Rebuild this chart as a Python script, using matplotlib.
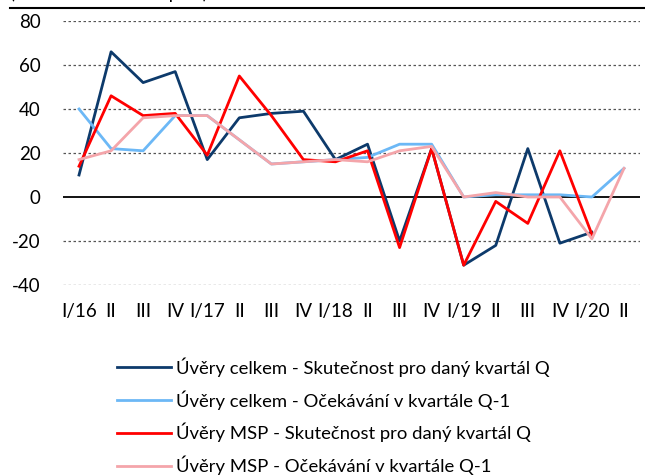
import matplotlib
matplotlib.use("Agg")
import matplotlib.pyplot as plt
from matplotlib.lines import Line2D

plt.rcParams['font.family'] = ['Lato', 'DejaVu Sans']
plt.rcParams['axes.unicode_minus'] = False

quarters = ["I/16", "II", "III", "IV", "I/17", "II", "III", "IV", "I/18", "II",
            "III", "IV", "I/19", "II", "III", "IV", "I/20", "II"]

# values
celkem_skut = [10, 66, 52, 57, 17, 36, 38, 39, 17, 24, -20, 22, -31, -22, 22, -21, -16]
celkem_ocek = [40, 22, 21, 37, 37, 26, 15, 16, 17, 18, 24, 24, 0, 1, 1, 1, 0, 13]
msp_skut = [14, 46, 37, 38, 19, 55, 37, 17, 16, 21, -23, 22, -31, -2, -12, 21, -17]
msp_ocek = [17, 21, 36, 37, 37, 26, 15, 16, 17, 16, 21, 23, 0, 2, 0, 0, -19, 13]

labels = ["Úvěry celkem - Skutečnost pro daný kvartál Q",
          "Úvěry celkem - Očekávání v kvartále Q-1",
          "Úvěry MSP - Skutečnost pro daný kvartál Q",
          "Úvěry MSP - Očekávání v kvartále Q-1"]
colors = ["#0d3a6b", "#6cb8f6", "#ff0000", "#f4a5aa"]

fig = plt.figure(figsize=(6.45, 4.76), dpi=100)
ax = fig.add_axes([63/645, 191/476, 577/645, 264/476])

series = [celkem_skut, celkem_ocek, msp_skut, msp_ocek]
for vals, lab, col in zip(series, labels, colors):
    ax.plot(range(len(vals)), vals, color=col, lw=2.0, label=lab, zorder=3)

ax.set_xlim(-0.5, len(quarters) - 0.5)
ax.set_ylim(-40, 80)
ax.set_yticks(range(-40, 81, 20))
ax.set_xticks(range(len(quarters)))
ax.set_xticklabels(quarters)
ax.tick_params(length=0, labelsize=13.5, colors="black")
ax.tick_params(axis='y', pad=16)
ax.tick_params(axis='x', pad=13)
for s in ax.spines.values():
    s.set_visible(False)
for v in range(-40, 81, 20):
    if v != 0:
        ax.axhline(v, color="#555555", lw=0.9, ls=(0, (2, 2)), zorder=1)
ax.axhline(0, color="black", lw=1.3, zorder=2)

fig.legend(loc="upper left", bbox_to_anchor=(110/645, 1 - 350/476), frameon=False,
           fontsize=13.3, handlelength=2.9, handletextpad=0.25, labelspacing=0.72,
           borderaxespad=0)

# cut-off heading at the top edge
fig.text(10/645, 1 + 0.5/476, "(rozdíl hodnocení v p. b.)", fontsize=13.3,
         va="baseline", ha="left")
fig.add_artist(Line2D([10/645, 1.0], [1 - 7.5/476, 1 - 7.5/476], color="black", lw=1.5))

fig.savefig("out.png", dpi=100)
